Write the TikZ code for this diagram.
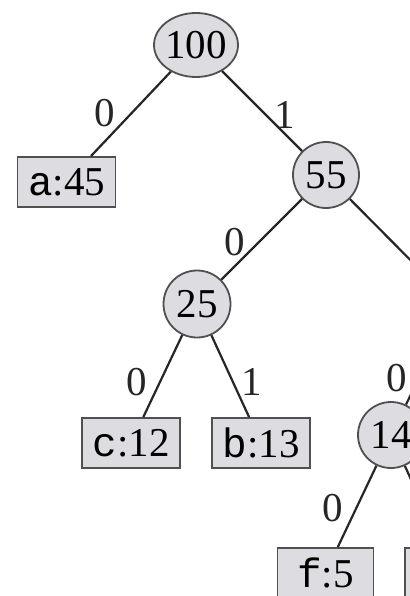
\documentclass[tikz,border=0pt]{standalone}
\usepackage{fontspec}
\setmainfont{Liberation Serif}
\setmonofont{Liberation Mono}
\usetikzlibrary{shapes.geometric}
\definecolor{nodefill}{HTML}{DDDDE1}
\definecolor{nodeline}{HTML}{505050}
\definecolor{edgecol}{HTML}{262626}
\begin{document}
\begin{tikzpicture}[x=1pt,y=-1pt,
  font=\fontsize{41}{48}\selectfont,
  inner/.style={circle,draw=nodeline,fill=nodefill,line width=1.8pt,inner sep=0pt,minimum size=66pt},
  rootnode/.style={ellipse,draw=nodeline,fill=nodefill,line width=1.8pt,inner sep=0pt,minimum width=84pt,minimum height=64pt},
  leaf/.style={rectangle,draw=nodeline,fill=nodefill,line width=1.8pt,inner sep=0pt,minimum width=98pt,minimum height=50pt},
  edge/.style={draw=edgecol,line width=2.2pt},
  bit/.style={inner sep=0pt,text=edgecol}]
\useasboundingbox (0,0) rectangle (409,596);
\fill[white] (0,0) rectangle (409,596);
% nodes
\node[rootnode] (n100) at (196,45) {\makebox[0pt]{100}};
\node[leaf] (a45) at (66.5,182) {\texttt{a}:45};
\node[inner] (n55) at (326,175) {55};
\node[inner] (n30) at (455,305) {};
\node[inner,minimum size=67pt] (n25) at (197,304) {25};
\node[leaf] (c12) at (131,443) {\texttt{c}:12};
\node[leaf] (b13) at (261,443) {\texttt{b}:13};
\node[inner] (n14) at (391,435) {14};
\node[leaf,minimum width=96pt] (f5) at (325.5,573) {\texttt{f}:5};
\node[leaf,minimum width=96pt] (e9) at (453,573) {};
% edges
\draw[edge] (n100) -- (a45);
\draw[edge] (n100) -- (n55);
\draw[edge] (n55) -- (n25);
\draw[edge] (n55) -- (n30);
\draw[edge] (n25) -- (c12);
\draw[edge] (n25) -- (b13);
\draw[edge] (n30) -- (n14);
\draw[edge] (n14) -- (f5);
\draw[edge] (n14) -- (e9);
% bit labels
\node[bit] (l1) at (105,113) {0};
\node[bit] (l2) at (285,115) {1};
\node[bit] (l3) at (235,242) {0};
\node[bit] (l4) at (137,382) {0};
\node[bit] (l5) at (252,382) {1};
\node[bit] (l6) at (397,378) {0};
\node[bit] (l7) at (333,508) {0};
\end{tikzpicture}
\end{document}
